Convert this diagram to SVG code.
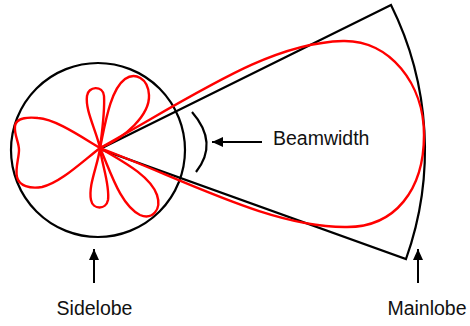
<svg xmlns="http://www.w3.org/2000/svg" width="470" height="326" viewBox="0 0 470 326">
<style>
.blk{fill:none;stroke:#000;stroke-width:2.2}
.red{fill:none;stroke:#f00;stroke-width:2.4;stroke-linejoin:round}
.arr{fill:none;stroke:#000;stroke-width:2}
.lbl{font-family:"Liberation Sans",Arial,Helvetica,sans-serif;font-size:19.5px;fill:#111}
</style>
<defs>
<marker id="ah" markerUnits="userSpaceOnUse" markerWidth="12" markerHeight="12" viewBox="0 0 12 12" refX="11" refY="6" orient="auto">
<path d="M0,1 L11,6 L0,11 Z" fill="#000"/>
</marker>
</defs>
<rect width="470" height="326" fill="#fff"/>
<g id="circle"><circle class="blk" cx="98" cy="150" r="87"/></g>
<g id="sector"><path class="blk" stroke-linejoin="miter" d="M100,149 L391,5 A325,325 0 0 1 406,259 Z"/></g>
<g id="beamwidth-arc"><path class="blk" d="M192,112 Q219,143 196,172"/></g>
<g id="mainlobe-pattern"><path class="red" d="M100,148 C200,92 270,43 343,41 C390,40 424,84 424,135 C424,190 395,227 347,227 C272,228 185,180 100,148 Z"/></g>
<g id="sidelobe-pattern">
<path class="red" d="M100,148 C80,136 55,119 38,118 C28,117 16,118 15,126 C14,135 19,142 19,150 C19,158 15,168 17,177 C19,186 30,189 42,187 C60,183 82,162 100,148 Z"/>
<path class="red" d="M100,148 C96,130 85,110 87,96 C88,86 103,85 104,96 C105,112 102,132 100,148 Z"/>
<path class="red" d="M100,148 C105,125 110,90 125,79 C135,72 148,78 149,95 C150,115 125,138 100,148 Z"/>
<path class="red" d="M100,148 C98,165 88,185 91,200 C93,210 106,210 108,200 C110,185 102,165 100,148 Z"/>
<path class="red" d="M100,148 C110,170 120,205 140,215 C152,220 162,210 157,195 C150,175 120,160 100,148 Z"/>
</g>
<g id="connectors">
<line class="arr" x1="262" y1="142" x2="212" y2="142" marker-end="url(#ah)"/>
<line class="arr" x1="94" y1="283" x2="94" y2="249" marker-end="url(#ah)"/>
<line class="arr" x1="418" y1="283" x2="418" y2="249" marker-end="url(#ah)"/>
</g>
<g id="label-beamwidth"><text class="lbl" x="273" y="145">Beamwidth</text></g>
<g id="label-sidelobe"><text class="lbl" x="94.5" y="315" text-anchor="middle">Sidelobe</text></g>
<g id="label-mainlobe"><text class="lbl" x="427" y="315" text-anchor="middle">Mainlobe</text></g>
</svg>
